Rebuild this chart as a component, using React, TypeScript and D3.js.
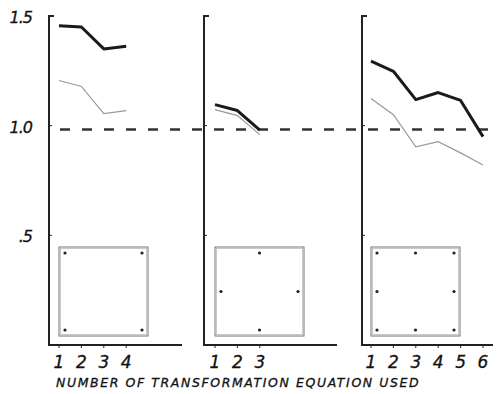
import React from 'react';
import * as d3 from 'd3';

// values, one panel per transformation set
const panelNames = ['corners', 'edges', 'grid'];
const eqCounts = [4, 3, 6];
const thickValues = [
  [1.455, 1.45, 1.35, 1.362],
  [1.096, 1.069, 0.98],
  [1.294, 1.248, 1.119, 1.151, 1.115, 0.95],
];
const thinValues = [
  [1.206, 1.179, 1.055, 1.069],
  [1.073, 1.046, 0.959],
  [1.124, 1.05, 0.904, 0.927, 0.876, 0.821],
];
// control points inside the little square (0..1 in both directions)
const boxPoints = [
  [[0, 0], [1, 0], [0, 1], [1, 1]],
  [[0.5, 0], [0, 0.5], [1, 0.5], [0.5, 1]],
  [[0, 0], [0.5, 0], [1, 0], [0, 0.5], [1, 0.5], [0, 1], [0.5, 1], [1, 1]],
];
const yTicks = [1.5, 1.0, 0.5];
const yTickLabels = ['1.5', '1.0', '.5'];
const referenceLevel = 0.982;
const axisTitle = 'NUMBER OF TRANSFORMATION EQUATION USED';

const W = 500;
const H = 394;
const axisX = [49, 204, 362];
const axisEnd = [182, 337, 493];
const firstTick = [59, 215, 371];
const step = 22.4;

const App = () => {
  const y = d3.scaleLinear().domain([0, 1.5]).range([345, 16]);
  const font = '"DejaVu Sans", sans-serif';

  return (
    <svg width={W} height={H} style={{ position: 'absolute', left: 0, top: 0, background: '#fff' }}>
      {/* y tick labels, only on the first panel */}
      {yTicks.map((t, i) => (
        <text key={t} x={32} y={y(t) + 7} textAnchor="end" fontFamily={font} fontStyle="italic"
          fontSize={16} letterSpacing={-1} fill="#111" stroke="#111" strokeWidth={0.3}>{yTickLabels[i]}</text>
      ))}

      {/* reference dashed line across all panels */}
      <line x1={60} x2={497} y1={y(referenceLevel)} y2={y(referenceLevel)}
        stroke="#333" strokeWidth={2.5} strokeDasharray="10 12" />

      {panelNames.map((name, p) => {
        const x = d3.scaleLinear().domain([1, 2]).range([firstTick[p], firstTick[p] + step]);
        const idx = d3.range(1, eqCounts[p] + 1);
        const line = d3.line<number>().x((_, i) => x(i + 1)).y(d => y(d));
        const bx0 = firstTick[p];
        const bx1 = bx0 + 89;
        const by0 = 247;
        const by1 = 336;
        const bxs = d3.scaleLinear().domain([0, 1]).range([bx0 + 6, bx1 - 6]);
        const bys = d3.scaleLinear().domain([0, 1]).range([by0 + 6, by1 - 6]);
        return (
          <g key={name}>
            {/* axes */}
            <path d={`M${axisX[p] + 5},${y(1.5)} H${axisX[p]} V${y(0)} H${axisEnd[p]}`}
              fill="none" stroke="#222" strokeWidth={2} />
            {yTicks.slice(1).map(t => (
              <line key={t} x1={axisX[p]} x2={axisX[p] + 3} y1={y(t)} y2={y(t)} stroke="#222" strokeWidth={1} />
            ))}
            {idx.map(i => (
              <g key={i}>
                <line x1={x(i)} x2={x(i)} y1={y(0)} y2={y(0) + 3} stroke="#222" strokeWidth={1} />
                <text x={x(i)} y={y(0) + 23} textAnchor="middle" fontFamily={font} fontStyle="italic"
                  fontSize={17} fill="#111" stroke="#111" strokeWidth={0.3}>{i}</text>
              </g>
            ))}

            {/* series */}
            <path d={line(thinValues[p]) || ''} fill="none" stroke="#999" strokeWidth={1.2} />
            <path d={line(thickValues[p]) || ''} fill="none" stroke="#1a1a1a" strokeWidth={3} strokeLinejoin="round" />

            {/* inset square with control points */}
            <rect x={bx0} y={by0} width={bx1 - bx0} height={by1 - by0} fill="none" stroke="#777" strokeWidth={1} />
            <rect x={bx0 + 1.5} y={by0 + 1.5} width={bx1 - bx0 - 3} height={by1 - by0 - 3} fill="none" stroke="#bbb" strokeWidth={0.8} />
            {boxPoints[p].map(([u, v], k) => (
              <circle key={k} cx={bxs(u)} cy={bys(v)} r={1.6} fill="#222" />
            ))}
          </g>
        );
      })}

      <text x={56} y={387} fontFamily={font} fontStyle="italic" fontSize={12.5} letterSpacing={1.3}
        fill="#111" stroke="#111" strokeWidth={0.3} textLength={364} lengthAdjust="spacing">{axisTitle}</text>
    </svg>
  );
};

export default App;
